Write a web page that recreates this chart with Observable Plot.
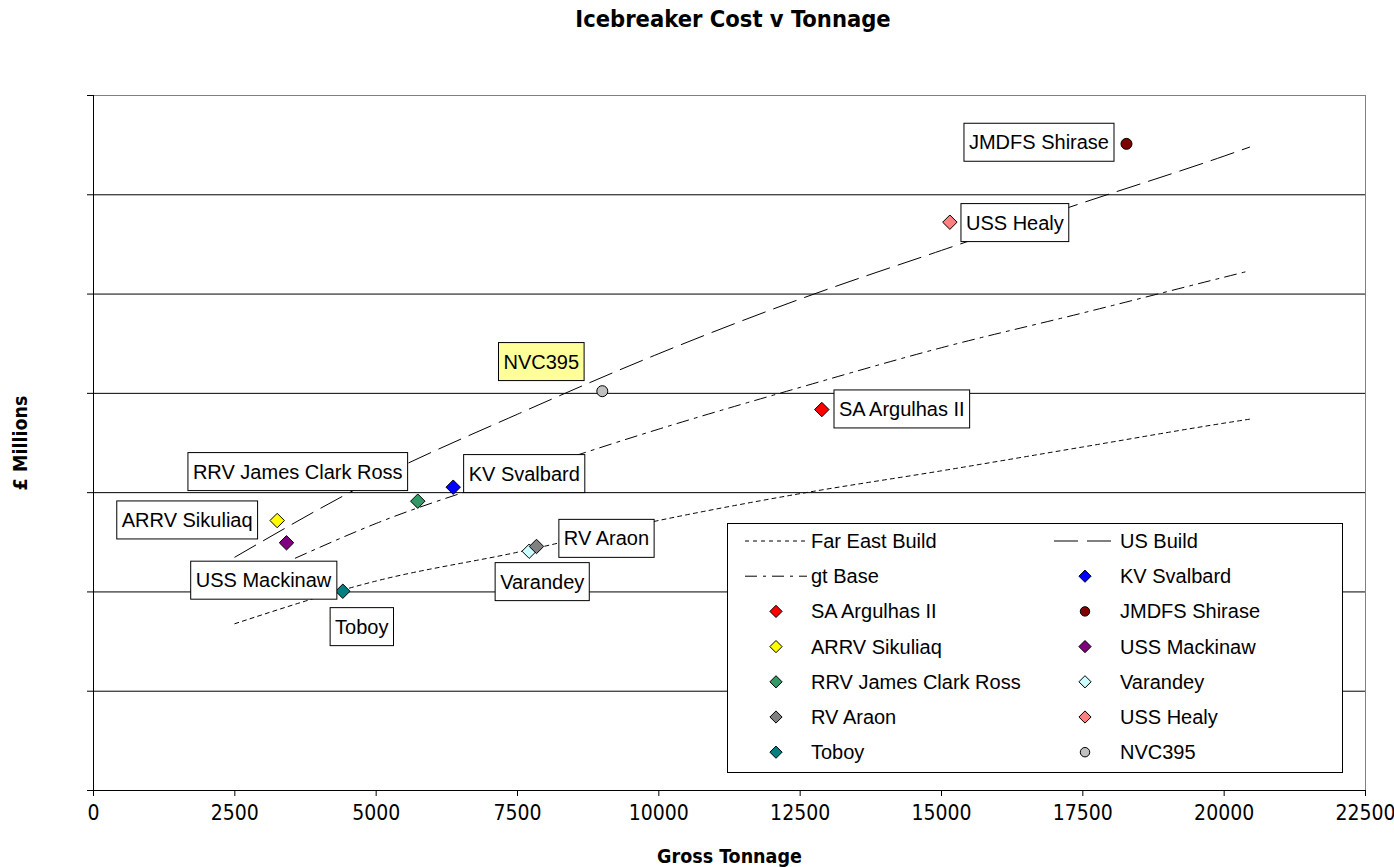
<!DOCTYPE html>
<html>
<head>
<meta charset="utf-8">
<script src="https://cdn.jsdelivr.net/npm/d3@7"></script>
<script src="https://cdn.jsdelivr.net/npm/@observablehq/plot@0.6"></script>
<style>
  html, body { margin: 0; padding: 0; background: #fff; }
  body { width: 1394px; height: 867px; position: relative; overflow: hidden; font-family: "Liberation Sans", Arial, sans-serif; }
  #title { box-sizing: border-box; width: 1394px; height: 36px; line-height: 38px; text-align: center; padding-left: 72px;
           font-family: "Liberation Sans Narrow", "Arial Narrow", "DejaVu Sans Condensed", sans-serif; font-weight: bold; font-size: 23.5px; color: #000; }
  #chart svg { display: block; }
  g[aria-label="x-axis label"] text, g[aria-label="y-axis label"] text { font-weight: bold; font-size: 19.5px; }
</style>
</head>
<body>
<div id="title">Icebreaker Cost v Tonnage</div>
<div id="chart"></div>
<script>
// ---- data ----
const shipNames    = ["KV Svalbard", "SA Argulhas II", "JMDFS Shirase", "ARRV Sikuliaq", "USS Mackinaw", "RRV James Clark Ross", "Varandey", "RV Araon", "USS Healy", "Toboy", "NVC395"];
const grossTonnage = [6363, 12883, 18272, 3249, 3414, 5736, 7707, 7836, 15148, 4410, 9000];
const costMillions = [30.55, 38.37, 65.13, 27.19, 24.95, 29.14, 24.10, 24.58, 57.24, 20.07, 40.22];
const shipColors   = ["#0000FF", "#FF0000", "#800000", "#FFFF00", "#800080", "#339966", "#CCFFFF", "#808080", "#FF8080", "#008080", "#C0C0C0"];
const shipShapes   = ["diamond2", "diamond2", "circle", "diamond2", "diamond2", "diamond2", "diamond2", "diamond2", "diamond2", "diamond2", "circle"];

const trendX       = [2500, 5000, 7500, 10000, 12500, 15000, 17500, 20000, 20450];
const farEastBuild = [16.8, 21.1, 24.0, 27.2, 29.9, 32.2, 34.6, 37.0, 37.4];
const usBuild      = [23.5, 31.4, 37.9, 44.0, 49.5, 54.4, 59.2, 63.9, 64.8];
const gtBaseX      = [3570, 5000, 7500, 10000, 12500, 15000, 17500, 20000, 20420];
const gtBase       = [23.4, 26.9, 31.8, 36.4, 40.6, 44.6, 48.1, 51.7, 52.3];

const xTicks = [0, 2500, 5000, 7500, 10000, 12500, 15000, 17500, 20000, 22500];
const yTicks = [0, 10, 20, 30, 40, 50, 60, 70];
const yGrid  = [10, 20, 30, 40, 50, 60];

const legendOrder = ["Far East Build", "US Build", "gt Base", "KV Svalbard", "SA Argulhas II", "JMDFS Shirase",
  "ARRV Sikuliaq", "USS Mackinaw", "RRV James Clark Ross", "Varandey", "RV Araon", "USS Healy", "Toboy", "NVC395"];

// ---- layout / style (not data) ----
const labelOffsets = {
  "JMDFS Shirase": [-87.5, -1], "USS Healy": [65, 1], "NVC395": [-61, -29], "SA Argulhas II": [80, 0],
  "KV Svalbard": [71, -13], "RRV James Clark Ross": [-120, -29], "ARRV Sikuliaq": [-90, 0],
  "USS Mackinaw": [-23, 38], "Toboy": [19, 36], "RV Araon": [70, -7.5], "Varandey": [13, 31]
};
const labelFill = { "NVC395": "#FFFF99" };
const lineDash = { "Far East Build": "4,4", "US Build": "24,9", "gt Base": "12,6,3,6" };
const NARROW = "'Liberation Sans Narrow', 'Arial Narrow', 'DejaVu Sans Condensed', sans-serif";
const REGULAR = "'Liberation Sans', Arial, sans-serif";

// ---- tables ----
const ships = shipNames.map((name, i) => ({ name, tonnage: grossTonnage[i], cost: costMillions[i], color: shipColors[i], shape: shipShapes[i] }));
const farEastRows = trendX.map((x, i) => ({ x, y: farEastBuild[i] }));
const usRows = trendX.map((x, i) => ({ x, y: usBuild[i] }));
const gtRows = gtBaseX.map((x, i) => ({ x, y: gtBase[i] }));

const labelMarks = ships.map(s => Plot.text([s], {
  x: "tonnage", y: "cost", text: "name",
  dx: labelOffsets[s.name][0], dy: labelOffsets[s.name][1],
  fontSize: 20, fontFamily: REGULAR, fill: "#000"
}));

const chart = Plot.plot({
  width: 1394, height: 831,
  marginLeft: 93, marginRight: 29, marginTop: 59, marginBottom: 77,
  style: { fontFamily: NARROW, fontSize: "21px", color: "#000", background: "#fff", overflow: "visible" },
  x: { domain: [0, 22500], ticks: xTicks, tickSize: 6, tickPadding: 9, tickFormat: d => String(d),
       label: "Gross Tonnage", labelAnchor: "center", labelOffset: 72, labelArrow: "none" },
  y: { domain: [0, 70], ticks: yTicks, tickSize: 6, tickFormat: () => "",
       label: "£ Millions", labelAnchor: "center", labelOffset: 80, labelArrow: "none" },
  marks: [
    Plot.ruleY(yGrid, { stroke: "#000", strokeWidth: 1 }),
    Plot.ruleY([70], { stroke: "#808080", strokeWidth: 1 }),
    Plot.ruleX([22500], { stroke: "#808080", strokeWidth: 1 }),
    Plot.ruleX([0], { stroke: "#000", strokeWidth: 1 }),
    Plot.ruleY([0], { stroke: "#000", strokeWidth: 1 }),
    Plot.line(farEastRows, { x: "x", y: "y", stroke: "#000", strokeWidth: 1, strokeDasharray: lineDash["Far East Build"], curve: "monotone-x" }),
    Plot.line(usRows, { x: "x", y: "y", stroke: "#000", strokeWidth: 1, strokeDasharray: lineDash["US Build"], curve: "monotone-x" }),
    Plot.line(gtRows, { x: "x", y: "y", stroke: "#000", strokeWidth: 1, strokeDasharray: lineDash["gt Base"], curve: "monotone-x" }),
    Plot.dot(ships.filter(d => d.shape === "diamond2"), { x: "tonnage", y: "cost", fill: "color", stroke: "#000", strokeWidth: 1, symbol: "diamond2", r: 6.5 }),
    Plot.dot(ships.filter(d => d.shape === "circle"), { x: "tonnage", y: "cost", fill: "color", stroke: "#000", strokeWidth: 1, symbol: "circle", r: 5.5 }),
    ...labelMarks
  ],
  color: { type: "identity" }
});

document.getElementById("chart").append(chart);

// label boxes behind text
chart.querySelectorAll('g[aria-label="text"]').forEach(g => {
  g.querySelectorAll("text").forEach(t => {
    const bb = t.getBBox();
    const name = t.textContent;
    const rect = document.createElementNS("http://www.w3.org/2000/svg", "rect");
    const w = bb.width + 10, h = 38;
    rect.setAttribute("x", bb.x + bb.width / 2 - w / 2);
    rect.setAttribute("y", bb.y + bb.height / 2 - h / 2);
    rect.setAttribute("width", w);
    rect.setAttribute("height", h);
    rect.setAttribute("fill", labelFill[name] || "#fff");
    rect.setAttribute("stroke", "#000");
    rect.setAttribute("stroke-width", 1);
    if (t.getAttribute("transform")) rect.setAttribute("transform", t.getAttribute("transform"));
    t.parentNode.insertBefore(rect, t);
  });
});

// legend (overlay inside plot area)
const legW = 616, legH = 250;
const leg = d3.select("body").append("svg")
  .attr("width", legW).attr("height", legH)
  .style("position", "absolute").style("left", "727px").style("top", "523px")
  .style("font-family", REGULAR).style("font-size", "20px");
leg.append("rect").attr("x", 0.5).attr("y", 0.5).attr("width", legW - 1).attr("height", legH - 1)
  .attr("fill", "#fff").attr("stroke", "#000").attr("stroke-width", 1);
const colX = [{ l0: 18, l1: 80, sym: 49, txt: 84 }, { l0: 327, l1: 388, sym: 358, txt: 393 }];
legendOrder.forEach((name, i) => {
  const c = colX[i % 2];
  const yy = 18 + 35.2 * Math.floor(i / 2);
  const g = leg.append("g");
  if (lineDash[name]) {
    g.append("line").attr("x1", c.l0).attr("x2", c.l1).attr("y1", yy).attr("y2", yy)
      .attr("stroke", "#000").attr("stroke-width", 1).attr("stroke-dasharray", lineDash[name]);
  } else {
    const s = ships.find(d => d.name === name);
    const sym = s.shape === "circle" ? d3.symbolCircle : d3.symbolDiamond2;
    const size = s.shape === "circle" ? 70 : 95;
    g.append("path").attr("d", d3.symbol(sym, size)()).attr("transform", `translate(${c.sym},${yy})`)
      .attr("fill", s.color).attr("stroke", "#000").attr("stroke-width", 1);
  }
  g.append("text").attr("x", c.txt).attr("y", yy).attr("dy", "0.35em").attr("fill", "#000").text(name);
});
</script>
</body>
</html>
